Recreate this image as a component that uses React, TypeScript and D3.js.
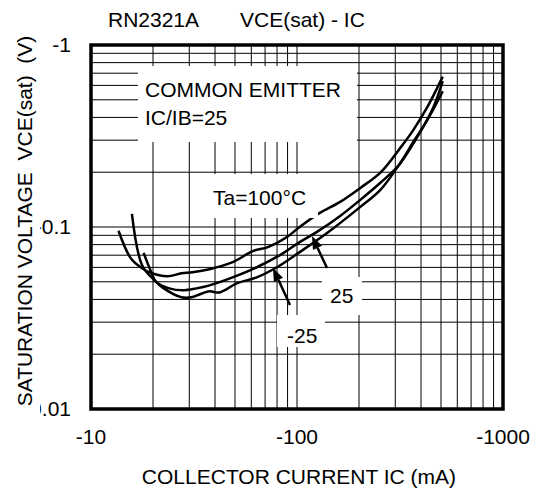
import * as d3 from "d3"

// axis ticks (log scales, the datasheet prints negative signs)
const xTicks = [10, 100, 1000]
const xTickLabels = ["-10", "-100", "-1000"]
const yTicks = [1, 0.1, 0.01]
const yTickLabels = ["-1", "-0.1", "-0.01"]

// Ta = 100°C
const ic100 = [13.6, 15.6, 17.7, 19.2, 23.5, 27.5, 31.1, 37.6, 48.7, 61.0, 72.2, 89.4, 103, 129, 162, 203, 254, 318, 368, 431, 510]
const v100 = [0.0954, 0.0674, 0.0594, 0.0564, 0.0536, 0.0557, 0.0564, 0.0586, 0.0641, 0.0737, 0.0775, 0.0881, 0.1, 0.1195, 0.1374, 0.164, 0.199, 0.273, 0.343, 0.46, 0.67]

// Ta = 25°C
const ic25 = [18.0, 19.6, 20.7, 24.0, 27.8, 32.5, 37.6, 48.7, 63.8, 82.6, 103, 125, 162, 203, 254, 308, 344, 398, 461, 510]
const v25 = [0.0721, 0.0566, 0.0499, 0.046, 0.0449, 0.046, 0.0478, 0.0529, 0.0601, 0.07, 0.0826, 0.094, 0.115, 0.141, 0.175, 0.2145, 0.256, 0.335, 0.46, 0.633]

// Ta = -25°C
const icM25 = [15.8, 17.7, 20.3, 22.2, 27.5, 30.7, 33.6, 37.6, 42.1, 51.0, 63.8, 79.9, 103, 140, 203, 254, 318, 368, 431, 510]
const vM25 = [0.118, 0.0617, 0.051, 0.0466, 0.0411, 0.0411, 0.0426, 0.0443, 0.0437, 0.049, 0.0529, 0.0601, 0.0728, 0.0927, 0.129, 0.16, 0.2258, 0.295, 0.39, 0.557]

const W = 537
const H = 490
const margin = { top: 45, right: 34, bottom: 81, left: 91 }
const FONT = "'Liberation Sans', Arial, sans-serif"
const FS = 21

const zip = (xs: number[], ys: number[]) => xs.map((x, i) => [x, ys[i]] as [number, number])

export default function App() {
  const x = d3.scaleLog().domain([10, 1000]).range([margin.left, W - margin.right])
  const y = d3.scaleLog().domain([0.01, 1]).range([H - margin.bottom, margin.top])

  const xGrid: number[] = []
  const yGrid: number[] = []
  ;[10, 100].forEach((d) => d3.range(2, 10).forEach((k) => xGrid.push(k * d)))
  ;[0.01, 0.1].forEach((d) => d3.range(2, 10).forEach((k) => yGrid.push(k * d)))
  xGrid.push(100)
  yGrid.push(0.1)

  const line = d3
    .line<[number, number]>()
    .x((d) => x(d[0]))
    .y((d) => y(d[1]))
    .curve(d3.curveCatmullRom.alpha(0.5))

  const series = [zip(ic100, v100), zip(ic25, v25), zip(icM25, vM25)]

  // arrow from label to curve, in pixels
  const arrow = (x1: number, y1: number, x2: number, y2: number) => {
    const a = Math.atan2(y2 - y1, x2 - x1)
    const len = 13
    const half = 5
    const bx = x2 - len * Math.cos(a)
    const by = y2 - len * Math.sin(a)
    const p1 = [bx + half * Math.sin(a), by - half * Math.cos(a)]
    const p2 = [bx - half * Math.sin(a), by + half * Math.cos(a)]
    return (
      <g>
        <line x1={x1} y1={y1} x2={bx} y2={by} stroke="#000" strokeWidth={2.5} />
        <polygon points={`${x2},${y2} ${p1[0]},${p1[1]} ${p2[0]},${p2[1]}`} fill="#000" />
      </g>
    )
  }

  const [x0, x1] = x.range()
  const [yb, yt] = y.range()

  return (
    <svg
      width={W}
      height={H}
      style={{ position: "absolute", left: 0, top: 0, background: "#fff" }}
      fontFamily={FONT}
      fontSize={FS}
    >
      <rect width={W} height={H} fill="#fff" />

      {/* grid */}
      {xGrid.map((v) => (
        <line key={"gx" + v} x1={x(v)} x2={x(v)} y1={yt} y2={yb} stroke="#000" strokeWidth={1} />
      ))}
      {yGrid.map((v) => (
        <line key={"gy" + v} x1={x0} x2={x1} y1={y(v)} y2={y(v)} stroke="#000" strokeWidth={1} />
      ))}

      {/* curves */}
      {series.map((s, i) => (
        <path key={i} d={line(s) ?? ""} fill="none" stroke="#000" strokeWidth={2.5} />
      ))}

      {/* label boxes */}
      <rect x={138} y={66} width={219} height={76} fill="#fff" />
      <rect x={205} y={174} width={113} height={44} fill="#fff" />
      <rect x={322} y={277} width={40} height={38} fill="#fff" />
      <rect x={277} y={315} width={48} height={32} fill="#fff" />

      <text x={145} y={97}>COMMON EMITTER</text>
      <text x={145} y={125}>IC/IB=25</text>
      <text x={213} y={205}>Ta=100°C</text>
      <text x={330} y={303}>25</text>
      <text x={287} y={343}>-25</text>

      {arrow(327, 268, 312, 236)}
      {arrow(290, 305, 273, 268)}

      {/* frame */}
      <rect x={x0} y={yt} width={x1 - x0} height={yb - yt} fill="none" stroke="#000" strokeWidth={3.5} />

      {/* x ticks */}
      {xTicks.map((v, i) => (
        <text key={"xt" + v} x={x(v)} y={yb + 35} textAnchor="middle">
          {xTickLabels[i]}
        </text>
      ))}

      {/* y ticks */}
      {yTicks.map((v, i) => (
        <text key={"yt" + v} x={71} y={y(v) + 7} textAnchor="end">
          {yTickLabels[i]}
        </text>
      ))}

      {/* y label with its white band that hides the tick signs */}
      <rect x={4} y={28} width={36} height={396} fill="#fff" />
      <text
        transform={`translate(32,${(yb + yt) / 2 - 6}) rotate(-90)`}
        textAnchor="middle"
        style={{ whiteSpace: "pre" }}
      >
        {"SATURATION VOLTAGE  VCE(sat)  (V)"}
      </text>

      <text x={(x0 + x1) / 2 + 2} y={H - 6} textAnchor="middle">
        COLLECTOR CURRENT IC (mA)
      </text>

      {/* title */}
      <text x={108} y={27}>RN2321A</text>
      <text x={240} y={27}>VCE(sat) - IC</text>
    </svg>
  )
}
